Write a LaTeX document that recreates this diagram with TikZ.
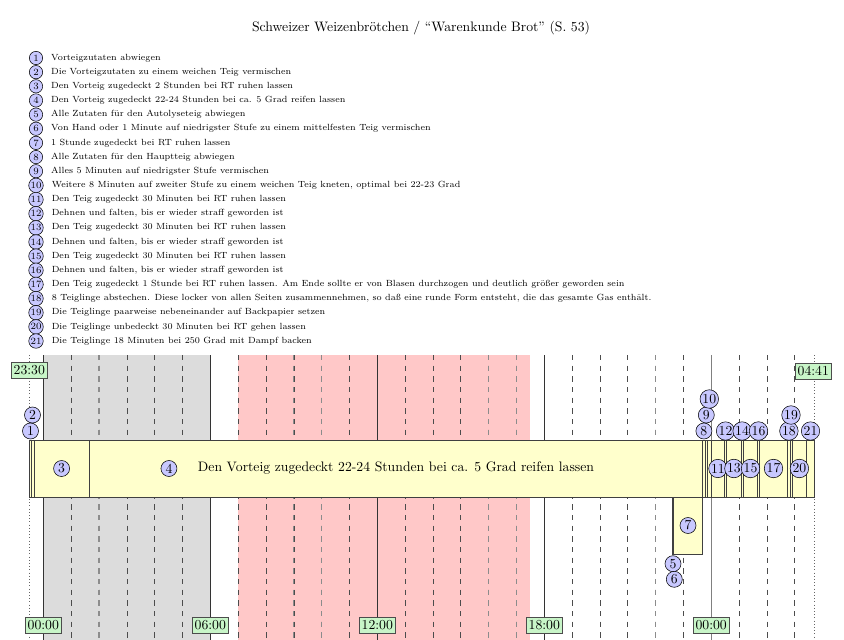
\documentclass[tikz,border=0pt]{standalone}
\usetikzlibrary{positioning}
\definecolor{nacht}{RGB}{220,220,220}
\definecolor{tag}{RGB}{255,200,200}
\definecolor{teig}{RGB}{255,255,204}
\definecolor{nummer}{RGB}{200,200,255}
\definecolor{uhr}{RGB}{200,245,200}
\tikzset{
  nr/.style={circle,draw,fill=nummer,inner sep=0.5pt,minimum size=12pt},
  listnr/.style={nr,minimum size=10pt,font=\fontsize{7.2}{8.5}\selectfont},
  uhrzeit/.style={draw=black!70,fill=uhr,inner xsep=1.5pt,inner ysep=2.5pt},
  balken/.style={draw=black!75,fill=teig,line width=0.4pt},
  stunde/.style={black!70,dash pattern=on 4pt off 4pt},
}
\begin{document}
\begin{tikzpicture}[x=0.75pt,y=-0.75pt,font=\fontsize{10.3}{12.4}\selectfont]
\useasboundingbox (0,0) rectangle (844,640);
\node (titel) at (421,28) {Schweizer Weizenbrötchen / ``Warenkunde Brot'' (S.~53)};

\foreach \n/\txt in {
  1/{Vorteigzutaten abwiegen},
  2/{Die Vorteigzutaten zu einem weichen Teig vermischen},
  3/{Den Vorteig zugedeckt 2 Stunden bei RT ruhen lassen},
  4/{Den Vorteig zugedeckt 22-24 Stunden bei ca. 5 Grad reifen lassen},
  5/{Alle Zutaten für den Autolyseteig abwiegen},
  6/{Von Hand oder 1 Minute auf niedrigster Stufe zu einem mittelfesten Teig vermischen},
  7/{1 Stunde zugedeckt bei RT ruhen lassen},
  8/{Alle Zutaten für den Hauptteig abwiegen},
  9/{Alles 5 Minuten auf niedrigster Stufe vermischen},
  10/{Weitere 8 Minuten auf zweiter Stufe zu einem weichen Teig kneten, optimal bei 22-23 Grad},
  11/{Den Teig zugedeckt 30 Minuten bei RT ruhen lassen},
  12/{Dehnen und falten, bis er wieder straff geworden ist},
  13/{Den Teig zugedeckt 30 Minuten bei RT ruhen lassen},
  14/{Dehnen und falten, bis er wieder straff geworden ist},
  15/{Den Teig zugedeckt 30 Minuten bei RT ruhen lassen},
  16/{Dehnen und falten, bis er wieder straff geworden ist},
  17/{Den Teig zugedeckt 1 Stunde bei RT ruhen lassen. Am Ende sollte er von Blasen durchzogen und deutlich größer geworden sein},
  18/{8 Teiglinge abstechen. Diese locker von allen Seiten zusammennehmen, so daß eine runde Form entsteht, die das gesamte Gas enthält.},
  19/{Die Teiglinge paarweise nebeneinander auf Backpapier setzen},
  20/{Die Teiglinge unbedeckt 30 Minuten bei RT gehen lassen},
  21/{Die Teiglinge 18 Minuten bei 250 Grad mit Dampf backen}} {
  \node[listnr] (l\n) at (36,{58+14.15*(\n-1)}) {\n};
  \node[right=5pt of l\n,inner sep=1pt,font=\fontsize{6.7}{8}\selectfont] (t\n) {\txt};
}

\fill[nacht] (43.3,355) rectangle (210.3,640);
\fill[tag] (238.1,355) rectangle (530.4,640);
\foreach \h in {1,2,3,4,5,7,8,9,10,11,13,14,15,16,17,19,20,21,22,23,25,26,27}
  \draw[stunde] ({43.3+27.83*\h},355) -- ({43.3+27.83*\h},640);
\foreach \h in {2,9,10,16,17,22}
  \draw[stunde,gray!90,line width=0.9pt] ({43.3+27.83*\h},355) -- ({43.3+27.83*\h},640);
\foreach \h in {0,6,12,18}
  \draw[black!80] ({43.3+27.83*\h},355) -- ({43.3+27.83*\h},640);
\draw[gray,line width=1pt] (711.2,355) -- (711.2,640);
\draw[dotted,black!60] (29.3,355) -- (29.3,640);
\draw[dotted,black!60] (814.3,355) -- (814.3,640);

\foreach \a/\b in {29.3/31.6, 31.6/33.9, 33.9/89.3, 89.3/702.7, 702.7/705, 705/707.7,
  707.7/711.4, 711.4/724.3, 724.3/726.7, 726.7/741, 741/743.3, 743.3/757.7,
  757.7/759.3, 759.3/787.7, 787.7/790, 790/792, 792/806.7, 806.7/814.3}
  \draw[balken] (\a,440) rectangle (\b,497);
\foreach \a/\b in {672.0/672.8, 672.8/673.6, 673.6/702.3}
  \draw[balken] (\a,497) rectangle (\b,554);

\node (txt4) at (396,468.5) {Den Vorteig zugedeckt 22-24 Stunden bei ca. 5 Grad reifen lassen};
\node[nr,left=12pt of txt4] (s4) {4};
\node[nr] (s1) at (30.5,431) {1};
\node[nr] (s2) at (32.5,415) {2};
\node[nr] (s3) at (61.6,468.5) {3};
\node[nr] (s5) at (673,563.7) {5};
\node[nr] (s6) at (674.3,579.3) {6};
\node[nr] (s7) at (688,525.5) {7};
\node[nr] (s8) at (703.9,431) {8};
\node[nr] (s9) at (706.3,415) {9};
\node[nr] (s10) at (709.3,399) {10};
\node[nr] (s11) at (717.9,468.5) {11};
\node[nr] (s12) at (725.5,431) {12};
\node[nr] (s13) at (733.9,468.5) {13};
\node[nr] (s14) at (742.1,431) {14};
\node[nr] (s15) at (750.5,468.5) {15};
\node[nr] (s16) at (758.5,431) {16};
\node[nr] (s17) at (773.5,468.5) {17};
\node[nr] (s18) at (788.9,431) {18};
\node[nr] (s19) at (791,415) {19};
\node[nr] (s20) at (799.4,468.5) {20};
\node[nr] (s21) at (810.5,431) {21};

\node[uhrzeit] (start) at (29.3,370) {23:30};
\node[uhrzeit] (ende) at (813.3,371) {04:41};
\node[uhrzeit] (u0) at (43.3,625) {00:00};
\node[uhrzeit] (u6) at (210.3,625) {06:00};
\node[uhrzeit] (u12) at (377.3,625) {12:00};
\node[uhrzeit] (u18) at (544.3,625) {18:00};
\node[uhrzeit] (u24) at (711.2,625) {00:00};
\end{tikzpicture}
\end{document}
